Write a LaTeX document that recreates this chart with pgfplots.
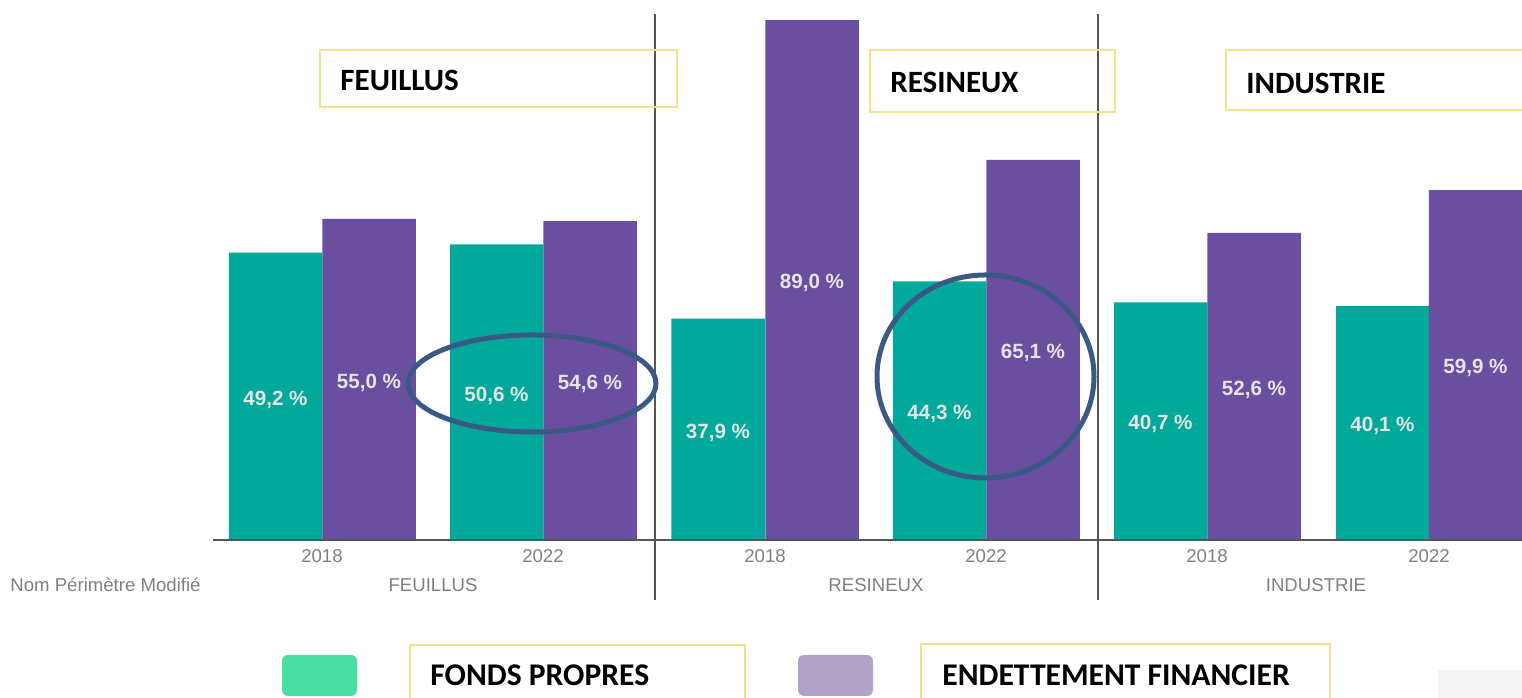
\documentclass[border=0pt]{standalone}
\usepackage{fontspec}
\setmainfont{Liberation Sans}
\newfontfamily\calfont{Carlito}
\usepackage{pgfplots}
\pgfplotsset{compat=1.18}
\definecolor{fonds}{HTML}{00A99A}
\definecolor{dette}{HTML}{6A4FA0}
\definecolor{fondsleg}{HTML}{48DEA6}
\definecolor{detteleg}{HTML}{B1A3C8}
\definecolor{boxyel}{HTML}{EDE48C}
\definecolor{ringblue}{HTML}{3A5A85}
\definecolor{sepgray}{HTML}{555555}
\definecolor{tickgray}{HTML}{808080}
\definecolor{valgray}{HTML}{E4E4E4}

\begin{document}
\begin{tikzpicture}
\begin{axis}[
    name=ax,
    scale only axis,
    width=761pt, height=349pt,
    xmin=0, xmax=1522,
    ymin=-27.055, ymax=92.466,
    axis x line*=middle,
    hide y axis,
    x axis line style={draw=none},
    major tick length=0pt,
    xtick={322,543,765,986,1207,1429},
    xticklabels={2018,2022,2018,2022,2018,2022},
    xticklabel style={font=\fontsize{9.3}{11}\selectfont, text=tickgray, yshift=-1pt},
    clip=false,
    ybar,
    bar width=93.5,
    visualization depends on={rawy/2 \as \halfv},
    nodes near coords={\pgfmathprintnumber[fixed, fixed zerofill, precision=1, use comma, assume math mode=true]{\pgfplotspointmeta}~\%},
    every node near coord/.append style={anchor=center, font=\bfseries\fontsize{10.3}{12}\selectfont, text=valgray, yshift={-2.92pt*\halfv-1.6pt}},
]
% fonds propres
\addplot[draw=none, fill=fonds, bar shift=0pt] coordinates {
    (275.5,49.2) (496.5,50.6) (718,37.9) (939.5,44.3) (1160.5,40.7) (1382.5,40.1)};
% endettement financier
\addplot[draw=none, fill=dette, bar shift=0pt] coordinates {
    (369,55.0) (590,54.6) (812,89.0) (1033,65.1) (1254,52.6) (1475.5,59.9)};

% base line and separators
\draw[sepgray, line width=1pt] (axis cs:213,0) -- (axis cs:1522,0);
\draw[sepgray, line width=0.9pt] (axis cs:655,90.07) -- (axis cs:655,-10.27);
\draw[sepgray, line width=0.9pt] (axis cs:1098,90.07) -- (axis cs:1098,-10.27);

% category labels
\begin{scope}[font=\fontsize{9.3}{11}\selectfont, text=tickgray]
\node[anchor=west, inner sep=0pt] at (axis cs:10,-7.7) {Nom Périmètre Modifié};
\node at (axis cs:433,-7.7) {FEUILLUS};
\node at (axis cs:876,-7.7) {RESINEUX};
\node at (axis cs:1316,-7.7) {INDUSTRIE};
\end{scope}

% title boxes
\draw[boxyel, line width=1pt] (axis cs:320,83.90) rectangle (axis cs:677,74.14);
\draw[boxyel, line width=1pt] (axis cs:870,83.90) rectangle (axis cs:1115,73.29);
\draw[boxyel, line width=1pt] (axis cs:1226,83.90) rectangle (axis cs:1540,73.63);
\begin{scope}[font=\calfont\bfseries\fontsize{15.5}{17}\selectfont, anchor=west, inner sep=0pt]
\node at (axis cs:340,78.77) {FEUILLUS};
\node at (axis cs:890,78.42) {RESINEUX};
\node at (axis cs:1246,78.25) {INDUSTRIE};
\end{scope}

% highlight rings
\draw[ringblue, line width=2.5pt] (axis cs:532,26.80) ellipse [x radius=62pt, y radius=24.25pt];
\draw[ringblue, line width=2.5pt] (axis cs:985.5,28.00) ellipse [x radius=54.25pt, y radius=50.75pt];

% legend
\fill[fondsleg, rounded corners=3pt] (axis cs:282,-19.69) rectangle (axis cs:357,-26.71);
\fill[detteleg, rounded corners=3pt] (axis cs:798,-19.69) rectangle (axis cs:873,-26.71);
\draw[boxyel, line width=1pt] (axis cs:410,-28) |- (axis cs:745,-17.98) -- (axis cs:745,-28);
\draw[boxyel, line width=1pt] (axis cs:921,-28) |- (axis cs:1330,-17.81) -- (axis cs:1330,-28);
\fill[black!4] (axis cs:1438,-22.26) rectangle (axis cs:1522,-27.06);
\begin{scope}[font=\calfont\bfseries\fontsize{15.8}{17}\selectfont, anchor=west, inner sep=0pt]
\node at (axis cs:430,-23.12) {FONDS PROPRES};
\node at (axis cs:942,-23.12) {ENDETTEMENT FINANCIER};
\end{scope}
\end{axis}
\pgfresetboundingbox
\path[use as bounding box] (ax.south west) rectangle (ax.north east);
\end{tikzpicture}
\end{document}
